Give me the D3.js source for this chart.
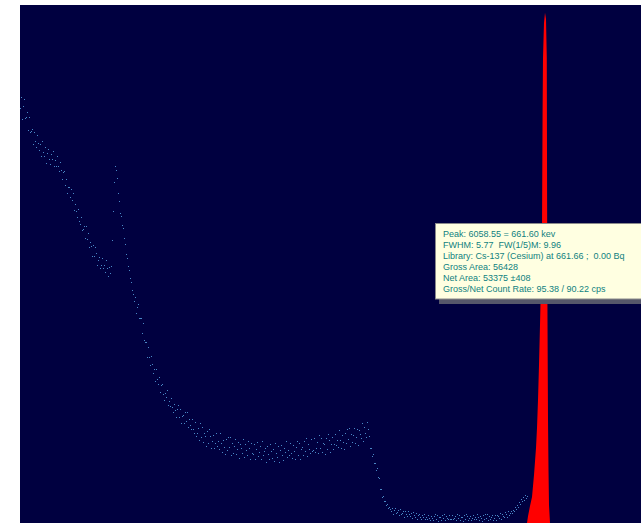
<!DOCTYPE html>
<html>
<head>
<meta charset="utf-8">
<script src="https://cdn.jsdelivr.net/npm/d3@7"></script>
<style>
  html, body { margin: 0; padding: 0; background: #ffffff; }
  svg { display: block; }
  .tip text { font-family: "Liberation Sans", Arial, sans-serif; font-size: 9px; fill: #0f7f80; white-space: pre; }
</style>
</head>
<body>
<svg id="chart" width="641" height="523"></svg>
<script>
// ---- Data ----
// Energy calibration of the displayed channels (keV)
const energyDomain = [115.6, 761.44];
const spectrumStartKeV = 115.6;
const spectrumStepKeV = 1.04;
// Background spectrum counts per displayed channel (log-scale display)
const spectrumCounts = [
  1580, 1930, 1290, 1620, 1850, 1310, 1350, 1460, 1070, 1350,
  1020, 1045, 1080, 832, 1030, 880, 790, 975, 850, 740,
  830, 670, 870, 725, 665, 780, 595, 710, 756, 635,
  578, 691, 638, 738, 563, 621, 563, 671, 561, 510,
  605,
  523, 444, 501, 517, 399, 449, 345, 385, 383, 326,
  376, 307, 349, 256, 287, 251, 225, 261, 210, 199,
  227, 180, 184, 193, 157, 194, 154, 169, 133, 144,
  135, 113, 137, 113, 133, 119, 97, 106, 112, 91,
  96, 110, 91, 96, 85, 106, 91, 80, 93, 83,
  95,
  150, 250, 420, 560, 520, 450, 350, 300, 245, 230,
  198, 186, 155, 140, 118, 110, 94, 88, 76, 71,
  62, 58,
  50.5, 55.0, 41.4, 45.9, 47.9, 37.4, 37.7, 37.8, 28.9, 34.3,
  25.6, 24.5, 24.5, 18.9, 22.3, 18.8, 16.4, 19.3, 16.5, 14.2,
  15.3, 12.2, 15.2, 12.7, 11.6, 13.1, 10.1, 11.4, 11.7, 9.8,
  8.75, 9.95, 9.2, 10.4, 8.0, 8.6, 7.85, 9.07, 7.78, 7.06,
  8.15, 7.36, 6.45, 7.52, 8.04, 6.48, 7.43, 5.83, 6.63, 6.73,
  5.83, 7.02, 5.98, 7.06, 5.38, 6.27, 5.65, 5.24, 6.28, 5.21,
  4.85, 5.92, 4.58, 4.85, 5.33, 4.27, 5.80, 4.56, 5.39, 4.16,
  4.83, 4.62, 3.83, 5.03, 4.10, 5.20, 4.62, 3.71, 4.24, 4.69,
  3.76, 4.07, 4.83, 3.88, 4.20, 3.69, 4.86, 4.05, 3.50, 4.30,
  3.78, 3.33, 4.38, 3.59, 4.57, 3.81, 4.53, 3.28, 4.04, 3.43,
  3.87, 4.37, 3.34, 3.63, 4.17, 3.13, 3.99, 3.71, 3.44, 4.39,
  3.19, 4.00, 3.57, 3.32, 4.25, 3.73, 3.06, 4.05, 3.39,
  3.38, 4.03, 3.04, 3.68, 4.16, 3.24, 3.48, 3.86, 3.06, 4.20,
  3.27, 3.51, 3.76, 2.93, 3.88, 3.36, 3.07, 4.00, 3.53, 3.12,
  3.66, 2.96, 4.07, 3.41, 3.18, 3.86, 2.91, 3.59, 3.94, 3.30,
  3.03, 3.76, 3.50, 4.19, 3.16, 3.58, 3.28, 4.07, 3.42, 3.13,
  3.90, 3.52, 3.06, 3.81, 4.25, 3.32, 4.06, 3.07, 3.67, 3.82,
  3.27, 4.20, 3.53, 4.47, 3.26, 4.03, 3.65, 3.41, 4.38, 3.56,
  3.57, 4.44, 3.47, 3.73, 4.17, 3.39, 4.68, 3.73, 4.46, 3.50,
  4.11, 3.99, 3.35, 4.46, 3.69, 4.74, 4.28, 3.47, 4.02, 4.50,
  3.66, 4.01, 4.82, 3.92, 4.31, 3.82, 5.11, 4.30, 3.75, 4.67,
  4.14, 3.68, 4.90, 4.06, 5.23, 4.40, 5.29, 3.86, 4.80, 4.12,
  4.68, 5.33, 4.11, 4.52, 5.23, 3.96, 5.10, 4.78, 4.48, 5.79,
  4.24, 5.37, 4.85, 4.56, 5.88, 5.22,
  4.60, 3.73, 3.73, 3.22, 3.34, 2.87, 2.88, 2.53, 2.62, 2.23,
  2.17, 1.79, 1.79, 1.57, 1.59, 1.45, 1.46, 1.35, 1.37, 1.28,
  1.31, 1.25,
  1.21, 1.28, 1.16, 1.23, 1.28, 1.17, 1.20, 1.24, 1.14, 1.26,
  1.16, 1.18, 1.21, 1.10, 1.21, 1.15, 1.11, 1.22, 1.16, 1.11,
  1.17, 1.08, 1.20, 1.13, 1.09, 1.17, 1.05, 1.13, 1.16, 1.09,
  1.05, 1.13, 1.10, 1.16, 1.05, 1.10, 1.06, 1.14, 1.08, 1.04,
  1.12, 1.08, 1.03, 1.11, 1.15, 1.06, 1.13, 1.02, 1.09, 1.10,
  1.04, 1.14, 1.07, 1.16, 1.04, 1.12, 1.08, 1.05, 1.14, 1.06,
  1.06, 1.14, 1.05, 1.08, 1.12, 1.04, 1.16, 1.07, 1.14, 1.04,
  1.10, 1.09, 1.02, 1.13, 1.06, 1.15, 1.11, 1.03, 1.08, 1.12,
  1.04, 1.08, 1.14, 1.06, 1.10, 1.05, 1.16, 1.09, 1.04, 1.12,
  1.07, 1.02, 1.13, 1.06, 1.15, 1.08, 1.15, 1.03, 1.11, 1.05,
  1.10, 1.14, 1.04, 1.08, 1.13,
  1.03, 1.13, 1.11, 1.08, 1.18, 1.06, 1.16, 1.12, 1.10, 1.20,
  1.16, 1.09, 1.21, 1.14, 1.17,
  1.22, 1.18, 1.24, 1.21, 1.30, 1.26, 1.36, 1.31, 1.42, 1.38,
  1.50, 1.45, 1.56, 1.49, 1.62, 1.54, 1.60
];
// Cs-137 photopeak region of interest (drawn filled)
const peakEnergies = [642.88, 643.92, 646.0, 648.08, 650.16, 652.24, 653.28, 654.32, 655.36, 656.4, 657.44, 658.48, 659.1, 659.52, 660.56, 661.6, 662.64, 663.47, 663.78, 664.2, 664.72, 665.24, 665.76, 666.8];
const peakCounts   = [1.0, 1.13, 1.35, 1.59, 2.35, 3.79, 5.42, 8.9, 16.6, 33.8, 75, 183, 1545, 3900, 7300, 8700, 7800, 3900, 312, 37, 6.24, 2.57, 1.38, 1.0];
const countDomain = [1, 10000];
// Peak report
const tooltipLines = [
  "Peak: 6058.55 = 661.60 kev",
  "FWHM: 5.77  FW(1/5)M: 9.96",
  "Library: Cs-137 (Cesium) at 661.66 ;  0.00 Bq",
  "Gross Area: 56428",
  "Net Area: 53375 \u00b1408",
  "Gross/Net Count Rate: 95.38 / 90.22 cps"
];

// ---- Drawing ----
const plot = { left: 20, top: 5, right: 641, bottom: 523 };
const svg = d3.select("#chart");

const x = d3.scaleLinear().domain(energyDomain).range([plot.left, plot.right]);
const y = d3.scaleLog().domain(countDomain).range([plot.bottom, plot.top]).clamp(true);

svg.append("rect")
  .attr("x", plot.left).attr("y", plot.top)
  .attr("width", plot.right - plot.left).attr("height", plot.bottom - plot.top)
  .attr("fill", "#000040");

const spectrum = spectrumCounts.map((c, i) => ({ e: spectrumStartKeV + i * spectrumStepKeV, c }));

svg.append("g").attr("shape-rendering", "crispEdges").selectAll("rect")
  .data(spectrum)
  .join("rect")
  .attr("x", d => Math.round(x(d.e)))
  .attr("y", d => Math.round(y(d.c)) - 1)
  .attr("width", 1)
  .attr("height", 1)
  .attr("fill", "#4a88c6");

const peak = peakEnergies.map((e, i) => ({ e, c: peakCounts[i] }));
svg.append("path")
  .datum(peak)
  .attr("fill", "#ff0000")
  .attr("d", d3.area().x(d => x(d.e)).y0(y(countDomain[0])).y1(d => y(d.c)));

// peak report box
const tip = svg.append("g").attr("class", "tip");
tip.append("rect").attr("x", 439).attr("y", 299).attr("width", 210).attr("height", 5).attr("fill", "#55566a");
tip.append("rect").attr("x", 435.5).attr("y", 223.5).attr("width", 210).attr("height", 75.5)
  .attr("fill", "#ffffe1").attr("stroke", "#8a8a8a").attr("stroke-width", 1);
tip.selectAll("text.line")
  .data(tooltipLines)
  .join("text")
  .attr("class", "line")
  .attr("x", 443)
  .attr("y", (d, i) => 237 + i * 11)
  .text(d => d);
</script>
</body>
</html>
